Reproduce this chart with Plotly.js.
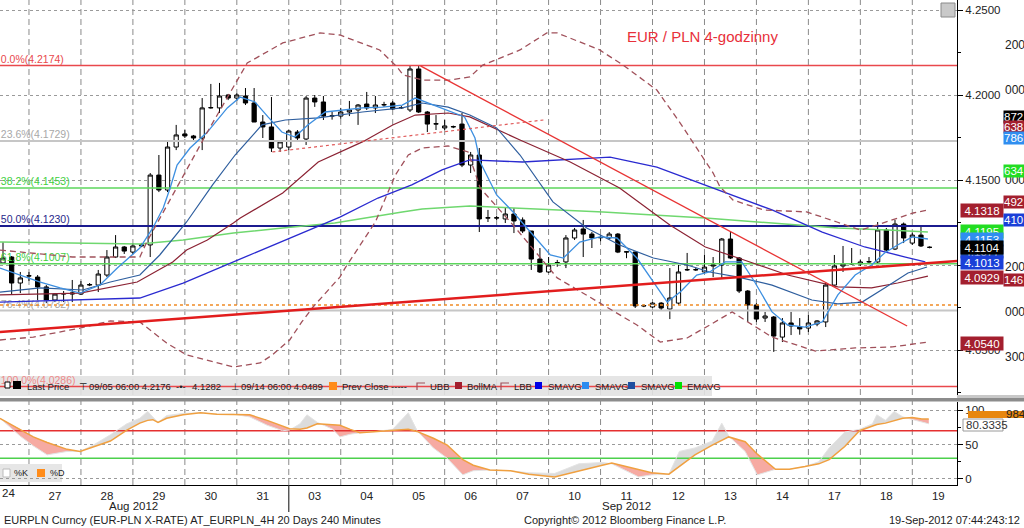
<!DOCTYPE html>
<html><head><meta charset="utf-8">
<script src="https://cdn.plot.ly/plotly-3.0.1.min.js"></script>
<style>html,body{margin:0;padding:0;background:#fff;}#chart{width:1024px;height:528px;}</style>
</head><body><div id="chart"></div>
<script>
// ---------- DATA ----------
const dayLabels = ['24','27','28','29','30','31','03','04','05','06','07','10','11','12','13','14','17','18','19'];
const monthLabels = ['Aug 2012','Sep 2012'];

const openP = [
4.1012,4.1047,4.0894,4.0935,4.0929,4.0871,4.0794,4.0829,4.0829,4.0829,
4.0882,4.0882,4.0941,4.1047,4.1106,4.1076,4.1112,4.1118,4.1529,4.1441,
4.1694,4.1771,4.1759,4.1747,4.1924,4.1924,4.2000,4.1982,4.1994,4.1953,
4.1841,4.1812,4.1688,4.1694,4.1782,4.1741,4.1982,4.1959,4.1876,4.1876,
4.1900,4.1912,4.1947,4.1924,4.1941,4.1953,4.1924,4.1912,4.2153,4.1900,
4.1829,4.1806,4.1812,4.1829,4.1588,4.1647,4.1276,4.1276,4.1271,4.1300,
4.1265,4.1200,4.1035,4.0959,4.1012,4.1018,4.1159,4.1212,4.1182,4.1160,
4.1159,4.1182,4.1076,4.1076,4.0759,4.0753,4.0776,4.0741,4.0776,4.0971,
4.0971,4.0959,4.0994,4.1000,4.1153,4.1041,4.0847,4.0765,4.0688,4.0694,
4.0576,4.0659,4.0635,4.0629,4.0653,4.0665,4.0882,4.0994,4.1006,4.1006,
4.1018,4.1018,4.1206,4.1094,4.1241,4.1129,4.1176,4.1104];
const highP = [
4.1135,4.1053,4.0959,4.0959,4.0941,4.0882,4.0835,4.0847,4.0912,4.0906,
4.0894,4.0971,4.1088,4.1176,4.1112,4.1129,4.1130,4.1541,4.1647,4.1726,
4.1824,4.1794,4.1765,4.1982,4.2065,4.2071,4.2006,4.2010,4.2041,4.2041,
4.1882,4.1988,4.1735,4.1794,4.1794,4.1994,4.2000,4.1994,4.1900,4.1924,
4.1965,4.1947,4.2018,4.1994,4.1960,4.1965,4.1935,4.2171,4.2176,4.1906,
4.1882,4.1853,4.1820,4.1894,4.1665,4.1688,4.1324,4.1290,4.1341,4.1335,
4.1280,4.1200,4.1100,4.1047,4.1030,4.1176,4.1218,4.1265,4.1194,4.1175,
4.1194,4.1188,4.1082,4.1080,4.0768,4.0782,4.0782,4.0982,4.1000,4.1071,
4.0985,4.1059,4.1047,4.1159,4.1194,4.1047,4.0853,4.0775,4.0724,4.0700,
4.0688,4.0724,4.0688,4.0706,4.0676,4.0900,4.1059,4.1112,4.1100,4.1030,
4.1047,4.1253,4.1218,4.1265,4.1250,4.1190,4.1224,4.1110];
const lowP = [
4.1012,4.0824,4.0835,4.0906,4.0794,4.0776,4.0782,4.0782,4.0782,4.0824,
4.0876,4.0841,4.0929,4.1041,4.1065,4.1065,4.1105,4.1047,4.1429,4.1429,
4.1676,4.1747,4.1724,4.1676,4.1920,4.1894,4.1970,4.1965,4.1941,4.1841,
4.1747,4.1665,4.1665,4.1676,4.1735,4.1706,4.1930,4.1853,4.1855,4.1860,
4.1876,4.1824,4.1912,4.1894,4.1930,4.1912,4.1918,4.1900,4.1894,4.1782,
4.1794,4.1794,4.1805,4.1576,4.1541,4.1194,4.1253,4.1265,4.1247,4.1188,
4.1188,4.0971,4.0953,4.0953,4.0990,4.0982,4.1147,4.1047,4.1100,4.1140,
4.1150,4.1070,4.1040,4.0747,4.0752,4.0745,4.0735,4.0682,4.0765,4.0965,
4.0965,4.0953,4.0929,4.0924,4.1035,4.0835,4.0665,4.0665,4.0665,4.0489,
4.0547,4.0588,4.0590,4.0606,4.0640,4.0635,4.0875,4.0959,4.1000,4.0994,
4.1012,4.1012,4.1080,4.1088,4.1129,4.1118,4.1106,4.1098];
const closeP = [
4.1041,4.0894,4.0924,4.0937,4.0871,4.0794,4.0829,4.0832,4.0835,4.0882,
4.0885,4.0947,4.1047,4.1106,4.1082,4.1112,4.1118,4.1529,4.1441,4.1694,
4.1765,4.1759,4.1747,4.1924,4.1926,4.1994,4.1982,4.2000,4.1953,4.1841,
4.1812,4.1688,4.1724,4.1788,4.1747,4.1982,4.1959,4.1876,4.1878,4.1900,
4.1912,4.1941,4.1924,4.1941,4.1944,4.1918,4.1926,4.2153,4.1900,4.1829,
4.1831,4.1818,4.1814,4.1588,4.1647,4.1271,4.1278,4.1278,4.1300,4.1259,
4.1200,4.1035,4.0959,4.1000,4.1014,4.1159,4.1206,4.1182,4.1159,4.1162,
4.1182,4.1076,4.1078,4.0759,4.0761,4.0776,4.0747,4.0806,4.0959,4.0973,
4.0973,4.0988,4.1000,4.1153,4.1041,4.0847,4.0765,4.0682,4.0700,4.0582,
4.0659,4.0641,4.0624,4.0659,4.0671,4.0882,4.0994,4.1006,4.1008,4.1018,
4.1020,4.1206,4.1088,4.1241,4.1159,4.1176,4.1112,4.1104];

// Bollinger bands (x = candle index)
const ubbX = [-0.35,4.3,8.0,15.8,16.6,23.6,28.2,32.3,36.6,38.9,43.5,45.5,46.2,48.5,51.6,53.9,55.4,59.7,62.8,64.0,68.9,71.6,75.5,78.2,82.0,82.8,84.3,87.8,92.8,96.3,99.0,100.9,105.1,106.8];
const ubbY = [4.1088,4.1065,4.1047,4.1047,4.1135,4.1782,4.2188,4.2306,4.2365,4.2353,4.2265,4.2165,4.2118,4.2088,4.2088,4.2106,4.2176,4.2265,4.2365,4.2365,4.2265,4.2176,4.2029,4.1835,4.1541,4.1459,4.1382,4.1324,4.1312,4.1253,4.1206,4.1235,4.1306,4.1324];
const lbbX = [-0.35,3.5,8.9,12.4,15.8,18.9,21.2,26.6,29.7,31.1,33.1,34.5,35.8,38.9,39.5,43.0,45.3,46.8,48.4,51.4,53.7,55.1,58.9,64.0,69.3,73.2,75.9,79.0,81.6,84.2,86.0,88.8,93.8,98.4,102.7,106.8];
const lbbY = [4.0559,4.0576,4.0629,4.0671,4.0665,4.0541,4.0471,4.0400,4.0424,4.0471,4.0559,4.0665,4.0753,4.0929,4.0982,4.1253,4.1529,4.1647,4.1688,4.1700,4.1665,4.1453,4.1235,4.0924,4.0765,4.0647,4.0547,4.0571,4.0647,4.0724,4.0665,4.0576,4.0494,4.0512,4.0518,4.0547];
const bollMaX = [-0.35,8.9,15.5,19.6,21.2,23.6,26.6,27.4,32.3,36.4,41.5,45.0,47.6,51.4,53.9,59.7,65.5,71.2,77.0,81.1,84.9,90.6,96.4,100.3,103.3,106.8];
const bollMaY = [4.0824,4.0835,4.0900,4.1018,4.1088,4.1147,4.1247,4.1276,4.1424,4.1606,4.1724,4.1824,4.1882,4.1894,4.1871,4.1735,4.1606,4.1453,4.1235,4.1106,4.1041,4.0941,4.0871,4.0865,4.0894,4.0935];
// Moving averages
const smaLongX = [-0.35,15.8,20.8,26.6,33.1,38.9,43.3,47.2,50.7,53.9,60.0,70.1,75.5,81.6,88.8,94.6,99.5,104.2,106.5];
const smaLongY = [4.0782,4.0806,4.0894,4.1018,4.1159,4.1282,4.1394,4.1471,4.1559,4.1618,4.1606,4.1635,4.1576,4.1459,4.1324,4.1194,4.1106,4.1047,4.1018];
const smaShortX = [-0.35,2.0,4.3,6.6,8.9,11.2,13.2,15.8,17.3,18.5,19.3,20.1,21.6,23.6,25.9,27.4,29.1,30.6,32.2,33.7,35.2,37.2,39.1,41.5,43.8,46.1,47.6,49.1,51.4,53.3,54.5,55.1,57.0,58.9,60.9,63.2,64.7,66.6,68.9,70.9,73.2,75.1,76.7,78.2,80.1,81.6,83.4,85.3,86.8,88.8,90.6,92.6,94.6,96.4,98.4,100.3,101.8,103.3,105.0,106.8];
const smaShortY = [4.0982,4.0941,4.0900,4.0865,4.0835,4.0882,4.0982,4.1100,4.1218,4.1335,4.1453,4.1588,4.1688,4.1782,4.1924,4.1988,4.1959,4.1871,4.1782,4.1753,4.1824,4.1900,4.1912,4.1924,4.1929,4.1941,4.1982,4.1953,4.1912,4.1871,4.1747,4.1606,4.1412,4.1312,4.1194,4.1059,4.1041,4.1135,4.1165,4.1159,4.1041,4.0900,4.0782,4.0841,4.0941,4.0959,4.1018,4.1018,4.0900,4.0724,4.0647,4.0635,4.0665,4.0824,4.0941,4.1000,4.1071,4.1118,4.1165,4.1153];
const smaMidX = [-0.35,4.3,9.2,12.4,15.8,18.1,21.2,24.2,26.8,29.9,32.6,36.4,41.5,46.1,48.4,51.4,53.9,57.0,59.7,63.5,67.4,71.2,75.1,79.0,81.6,84.9,88.8,93.4,96.4,99.2,101.8,104.5,106.7];
const smaMidY = [4.0841,4.0865,4.0853,4.0900,4.0941,4.1059,4.1253,4.1471,4.1647,4.1824,4.1853,4.1865,4.1900,4.1924,4.1953,4.1929,4.1882,4.1806,4.1647,4.1371,4.1218,4.1118,4.1041,4.1000,4.0959,4.0929,4.0882,4.0794,4.0771,4.0782,4.0865,4.0953,4.0988];
const emaX = [-0.35,7.4,15.8,20.8,26.6,32.3,38.3,46.1,48.4,53.9,61.7,69.3,75.1,81.1,88.8,96.4,102.2,106.8];
const emaY = [4.1135,4.1129,4.1124,4.1147,4.1188,4.1218,4.1247,4.1312,4.1329,4.1347,4.1329,4.1312,4.1294,4.1276,4.1247,4.1218,4.1206,4.1194];
// Trend lines drawn on the chart
const supportX = [-0.35,110.2];   const supportY = [4.0606,4.1024];
const resistX = [48.2,104.4];     const resistY = [4.2171,4.0641];
const dotTrendX = [31.1,62.4];    const dotTrendY = [4.1665,4.1853];
const prevClose = 4.0765;
// Fibonacci retracement
const fibPct = ['0.0%','23.6%','38.2%','50.0%','61.8%','76.4%','100.0%'];
const fibLevel = [4.2174,4.1729,4.1453,4.1230,4.1007,4.0732,4.0286];
// Stochastic
const stochX = [-0.35,2.0,3.5,5.1,7.4,8.9,10.4,12.4,14.3,15.8,16.7,17.3,17.9,18.9,20.8,22.8,24.7,26.6,28.5,30.5,32.3,33.1,34.3,35.1,36.3,38.1,38.9,40.1,41.2,43.2,45.0,46.8,47.8,49.7,51.3,53.1,54.3,56.2,58.6,60.7,63.7,66.5,69.2,70.3,72.3,73.4,74.9,76.9,78.1,79.9,81.9,83.0,83.8,85.7,87.1,89.2,90.8,92.6,94.2,95.4,97.2,98.9,100.4,100.9,101.9,102.9,103.9,105.0,106.1,106.9];
const stochD = [88,72,61,53,43,40,46,55,71,81,85,86,82,88,93,96,94,94,93,85,76,73,72,74,80,79,78,72,67,69,70,72,69,59,49,28,20,13,12,7,3,12,20,23,17,13,9,7,18,35,49,56,61,54,36,14,14,18,22,28,47,70,77,79,81,85,88,89,87,87];
const stochK = [88,62,48,35,40,40,49,64,80,88,98,90,82,92,95,96,94,94,90,78,70,71,80,93,82,72,61,65,67,69,72,96,70,45,30,6,12,13,12,9,8,22,24,22,10,3,6,7,40,45,55,81,62,40,6,14,14,18,25,45,68,72,80,93,85,98,90,86,82,80];
const stochLevels = [70,30];
// Right-hand value tags
const tagValues = [4.1318,4.0540,4.0929,4.1195,4.1153,4.1077,4.1104,4.1013];
const tagColors = ['#a31f2e','#a31f2e','#a31f2e','#22dd22','#2f8ef0','#1f4fa0','#000000','#1a3fd8'];
const colTagText = ['872','638','786','634','492','410','146'];
const colTagValues = [4.1871,4.1812,4.1747,4.1553,4.1371,4.1265,4.0912];
const colTagColors = ['#000000','#a31f2e','#2f8ef0','#22dd22','#a31f2e','#1a3fd8','#a31f2e'];
const colAxisText = ['200','000','000','200','000','300'];
const colAxisValues = [4.2294,4.2029,4.1500,4.0988,4.0724,4.0459];

// ---------- DRAW ----------
const W = 957, H = 485;
const px = x => x / W;
const py = y => (H - y) / H;
const FONT = 'Liberation Sans, Arial, DejaVu Sans, sans-serif';
const traces = [];

const fibColor = ['#e9484c','#c6c6c6','#5cd65c','#1b1b8f','#5cd65c','#c6c6c6','#e9484c'];
const fibWidth = [1.5,2,1.5,2,1.5,2,1.5];
const fibText = ['#e9484c','#a8a8a8','#3fcf3f','#27278a','#3fcf3f','#a8a8a8','#f08a8a'];
fibLevel.forEach((v,j)=>traces.push({type:'scatter',mode:'lines',x:[-0.35,110.2],y:[v,v],
  line:{color:fibColor[j],width:fibWidth[j]},hoverinfo:'skip'}));
traces.push({type:'scatter',mode:'text',x:fibLevel.map(()=>-0.25),y:fibLevel,
  text:fibPct.map((p,j)=>p+'('+fibLevel[j].toFixed(4)+')'),textposition:'top right',
  textfont:{family:FONT,size:10.5,color:fibText},cliponaxis:false,hoverinfo:'skip'});
traces.push({type:'scatter',mode:'lines',x:[-0.35,110.2],y:[prevClose,prevClose],
  line:{color:'#f08a24',width:1.5,dash:'dot'},hoverinfo:'skip'});

traces.push({type:'candlestick',x:openP.map((_,i)=>i),open:openP,high:highP,low:lowP,close:closeP,
  increasing:{line:{color:'#000',width:1},fillcolor:'#ffffff'},
  decreasing:{line:{color:'#000',width:1},fillcolor:'#000000'},
  whiskerwidth:0,hoverinfo:'skip'});

function line(x,y,color,width,dash){traces.push({type:'scatter',mode:'lines',x:x,y:y,
  line:{color:color,width:width,dash:dash||'solid'},hoverinfo:'skip'});}
line(emaX,emaY,'#6fd86f',1.5);
line(smaLongX,smaLongY,'#2a2ad0',1.3);
line(bollMaX,bollMaY,'#8b2233',1.2);
line(smaMidX,smaMidY,'#2e5e9e',1.2);
line(smaShortX,smaShortY,'#3d8fe0',1.3);
line(ubbX,ubbY,'#a0505a',1.3,'6px,4px');
line(lbbX,lbbY,'#a0505a',1.3,'6px,4px');
line(supportX,supportY,'#e21d1d',2.5);
line(resistX,resistY,'#e83434',1.3);
line(dotTrendX,dotTrendY,'#e05a5a',1.2,'dot');

// stochastic shading
function regions(xs,k,d){
  const pts=[];
  for(let j=0;j<xs.length;j++){
    pts.push({x:xs[j],k:k[j],d:d[j]});
    if(j<xs.length-1){const a=k[j]-d[j],b=k[j+1]-d[j+1];
      if(a*b<0){const t=a/(a-b);const vc=d[j]+t*(d[j+1]-d[j]);
        pts.push({x:xs[j]+t*(xs[j+1]-xs[j]),k:vc,d:vc});}}
  }
  const regs=[];let cur=null;
  for(const p of pts){const s=Math.sign(p.k-p.d);
    if(!cur){cur={s:s,pts:[p]};continue;}
    if(s===0){cur.pts.push(p);regs.push(cur);cur={s:0,pts:[p]};continue;}
    if(cur.s===0){cur.s=s;cur.pts.push(p);continue;}
    if(s===cur.s)cur.pts.push(p);else{regs.push(cur);cur={s:s,pts:[cur.pts[cur.pts.length-1],p]};}
  }
  if(cur)regs.push(cur);
  return regs.filter(r=>r.s!==0&&r.pts.length>1);
}
regions(stochX,stochK,stochD).forEach(r=>{
  const xs=r.pts.map(p=>p.x),ks=r.pts.map(p=>p.k),ds=r.pts.map(p=>p.d);
  traces.push({type:'scatter',mode:'lines',xaxis:'x',yaxis:'y2',
    x:xs.concat(xs.slice().reverse()),y:ks.concat(ds.slice().reverse()),
    fill:'toself',fillcolor:r.s>0?'#dcdcdc':'#f6aaa2',line:{width:0},hoverinfo:'skip'});
});
stochLevels.forEach((v,j)=>traces.push({type:'scatter',mode:'lines',xaxis:'x',yaxis:'y2',
  x:[-0.35,110.2],y:[v,v],line:{color:j===0?'#e53030':'#4cd04c',width:1.4},hoverinfo:'skip'}));
traces.push({type:'scatter',mode:'lines',xaxis:'x',yaxis:'y2',x:stochX,y:stochK,
  line:{color:'#e4e4e4',width:1},hoverinfo:'skip'});
traces.push({type:'scatter',mode:'lines',xaxis:'x',yaxis:'y2',x:stochX,y:stochD,
  line:{color:'#f0a040',width:1.5},hoverinfo:'skip'});

// ---------- SHAPES ----------
const shapes=[];
for(let k=0;k<18;k++){
  shapes.push({type:'line',xref:'x',yref:'paper',x0:3+6*k,x1:3+6*k,y0:0,y1:1,
    line:{color:'#8a8a8a',width:1,dash:'6px,4px'},layer:'below'});
}
function rectP(x0,y0,x1,y1,fill,lineColor,layer){shapes.push({type:'rect',xref:'paper',yref:'paper',
  x0:px(x0),x1:px(x1),y0:py(y1),y1:py(y0),fillcolor:fill,line:{color:lineColor||fill,width:lineColor?1:0},layer:layer||'above'});}
rectP(0,376,712,396,'rgba(226,226,226,0.9)',null,'between');
rectP(0,464,62,482,'#e6e6e6',null,'between');
rectP(0,398,1024,401.5,'#8c8c8c');
rectP(957,395,1024,398,'#c8c8c8');
// legend icons
rectP(5,382,10,388,'#ffffff','#000');
rectP(13,381,21,389,'#000000');
rectP(329,382,337,390,'#ff8c1a');
rectP(455,382,462,389,'#a31f2e');
rectP(535,382,542,389,'#0000e6');
rectP(582,382,589,389,'#2b8cf0');
rectP(628,382,635,389,'#1f4fa0');
rectP(675,382,682,389,'#00e000');
rectP(3,469,10,477,'#ffffff','#bbbbbb');
rectP(37,469,45,477,'#ff8c1a');
function pathP(pts,color){shapes.push({type:'path',xref:'paper',yref:'paper',
  path:pts.map((p,i)=>(i?'L ':'M ')+px(p[0])+','+py(p[1])).join(' '),line:{color:color,width:1.2}});}
pathP([[417,390],[417,383],[425,383]],'#a0505a');
pathP([[501,390],[501,383],[509,383]],'#a0505a');
// month separator tick + top-right icon
shapes.push({type:'line',xref:'x',yref:'paper',x0:33,x1:33,y0:py(512),y1:0,line:{color:'#333',width:1.2}});
rectP(941,3,955,17,'#c9c9c9','#8a8a8a');
// stochastic right markers
rectP(968,411,1024,418,'#e8870e');
rectP(963,419,1003,431,'#ffffff','#9a9a9a');

// ---------- ANNOTATIONS ----------
const ann=[];
function txt(x,y,t,opts){ann.push(Object.assign({xref:'paper',yref:'paper',x:px(x),y:py(y),text:t,
  showarrow:false,xanchor:'left',yanchor:'middle',font:{family:FONT,size:10,color:'#222'}},opts||{}));}
txt(702,37,'EUR / PLN 4-godzinny',{xanchor:'center',font:{family:FONT,size:15,color:'#e8303a'}});
const legItems=[[25,'Last Price'],[77,'⊤'],[87,'09/05 06:00 4.2176'],[174,'-•-'],[190,'4.1282'],[229,'⊥'],
 [239,'09/14 06:00 4.0489'],[340,'Prev Close -----'],[428,'UBB'],[465,'BollMA'],[512,'LBB'],
 [546,'SMAVG'],[593,'SMAVG'],[639,'SMAVG'],[685,'EMAVG']];
legItems.forEach(it=>txt(it[0],386,it[1],{font:{family:FONT,size:9.5,color:'#222'}}));
txt(12,473,'%K',{font:{family:FONT,size:9,color:'#222'}});
txt(48,473,'%D',{font:{family:FONT,size:9,color:'#222'}});
// first day label sits at the left edge of the plot
txt(0,493,dayLabels[0],{font:{family:FONT,size:11.5,color:'#222'}});
txt(133,506,monthLabels[0],{xanchor:'center',font:{family:FONT,size:11.5,color:'#222'}});
txt(626,506,monthLabels[1],{xanchor:'center',font:{family:FONT,size:11.5,color:'#222'}});
txt(2,520,'EURPLN Curncy (EUR-PLN X-RATE) AT_EURPLN_4H 20 Days 240 Minutes',{font:{family:FONT,size:11,color:'#222'}});
txt(522,520,'Copyright\u00a9 2012 Bloomberg Finance L.P.',{font:{family:FONT,size:11,color:'#222'}});
txt(1022,520,'19-Sep-2012 07:44:243:12',{xanchor:'right',font:{family:FONT,size:11,color:'#222'}});
txt(964,425,'80.3335',{font:{family:FONT,size:11.5,color:'#333'}});
txt(1004,414,'984',{font:{family:FONT,size:11.5,color:'#222'}});
colAxisText.forEach((t,j)=>ann.push({xref:'paper',yref:'y',x:px(1003),y:colAxisValues[j],text:t,showarrow:false,
  xanchor:'left',yanchor:'middle',font:{family:FONT,size:12,color:'#222'}}));
tagValues.forEach((v,j)=>ann.push({xref:'paper',yref:'y',x:px(960),y:v,text:v.toFixed(4),showarrow:false,
  xanchor:'left',yanchor:'middle',width:42,height:13,borderpad:0,bgcolor:tagColors[j],align:'center',
  font:{family:FONT,size:11.5,color:'#ffffff'}}));
colTagText.forEach((t,j)=>ann.push({xref:'paper',yref:'y',x:px(1003),y:colTagValues[j],text:t,showarrow:false,
  xanchor:'left',yanchor:'middle',width:26,height:12,borderpad:0,bgcolor:colTagColors[j],align:'left',
  font:{family:FONT,size:11.5,color:'#ffffff'}}));

const layout={
  width:1024,height:528,margin:{l:0,r:67,t:0,b:43,pad:0},
  paper_bgcolor:'#ffffff',plot_bgcolor:'#ffffff',showlegend:false,
  font:{family:FONT,size:11,color:'#222'},
  xaxis:{range:[-0.346,110.16],anchor:'y2',showgrid:false,zeroline:false,showline:true,linecolor:'#000',linewidth:1,
    tickvals:dayLabels.slice(1).map((_,k)=>6*(k+1)),ticktext:dayLabels.slice(1),ticks:'',tickfont:{family:FONT,size:11.5,color:'#222'},
    rangeslider:{visible:false},fixedrange:true},
  yaxis:{domain:[0.1814,1],range:[4.02235,4.25588],side:'right',anchor:'x',showline:true,linecolor:'#000',
    ticks:'outside',ticklen:5,tickcolor:'#000',tick0:4.0,dtick:0.05,tickformat:'.4f',
    tickfont:{family:FONT,size:11.5,color:'#222'},
    showgrid:true,gridcolor:'#9a9a9a',griddash:'dot',gridwidth:1,zeroline:false,
    minor:{tick0:4.0,dtick:0.025,ticks:'outside',ticklen:3,tickcolor:'#000',showgrid:false}},
  yaxis2:{domain:[0,0.1711],range:[-8.7,111.6],side:'right',anchor:'x',showline:true,linecolor:'#000',
    tickvals:[0,50,100],ticks:'outside',ticklen:5,tickcolor:'#000',tickfont:{family:FONT,size:11.5,color:'#222'},
    showgrid:true,gridcolor:'#9a9a9a',griddash:'dot',zeroline:false,
    minor:{tickvals:[25,75],ticks:'outside',ticklen:3,tickcolor:'#000',showgrid:false}},
  shapes:shapes,annotations:ann
};
Plotly.newPlot('chart',traces,layout,{staticPlot:true,displayModeBar:false});
</script></body></html>
